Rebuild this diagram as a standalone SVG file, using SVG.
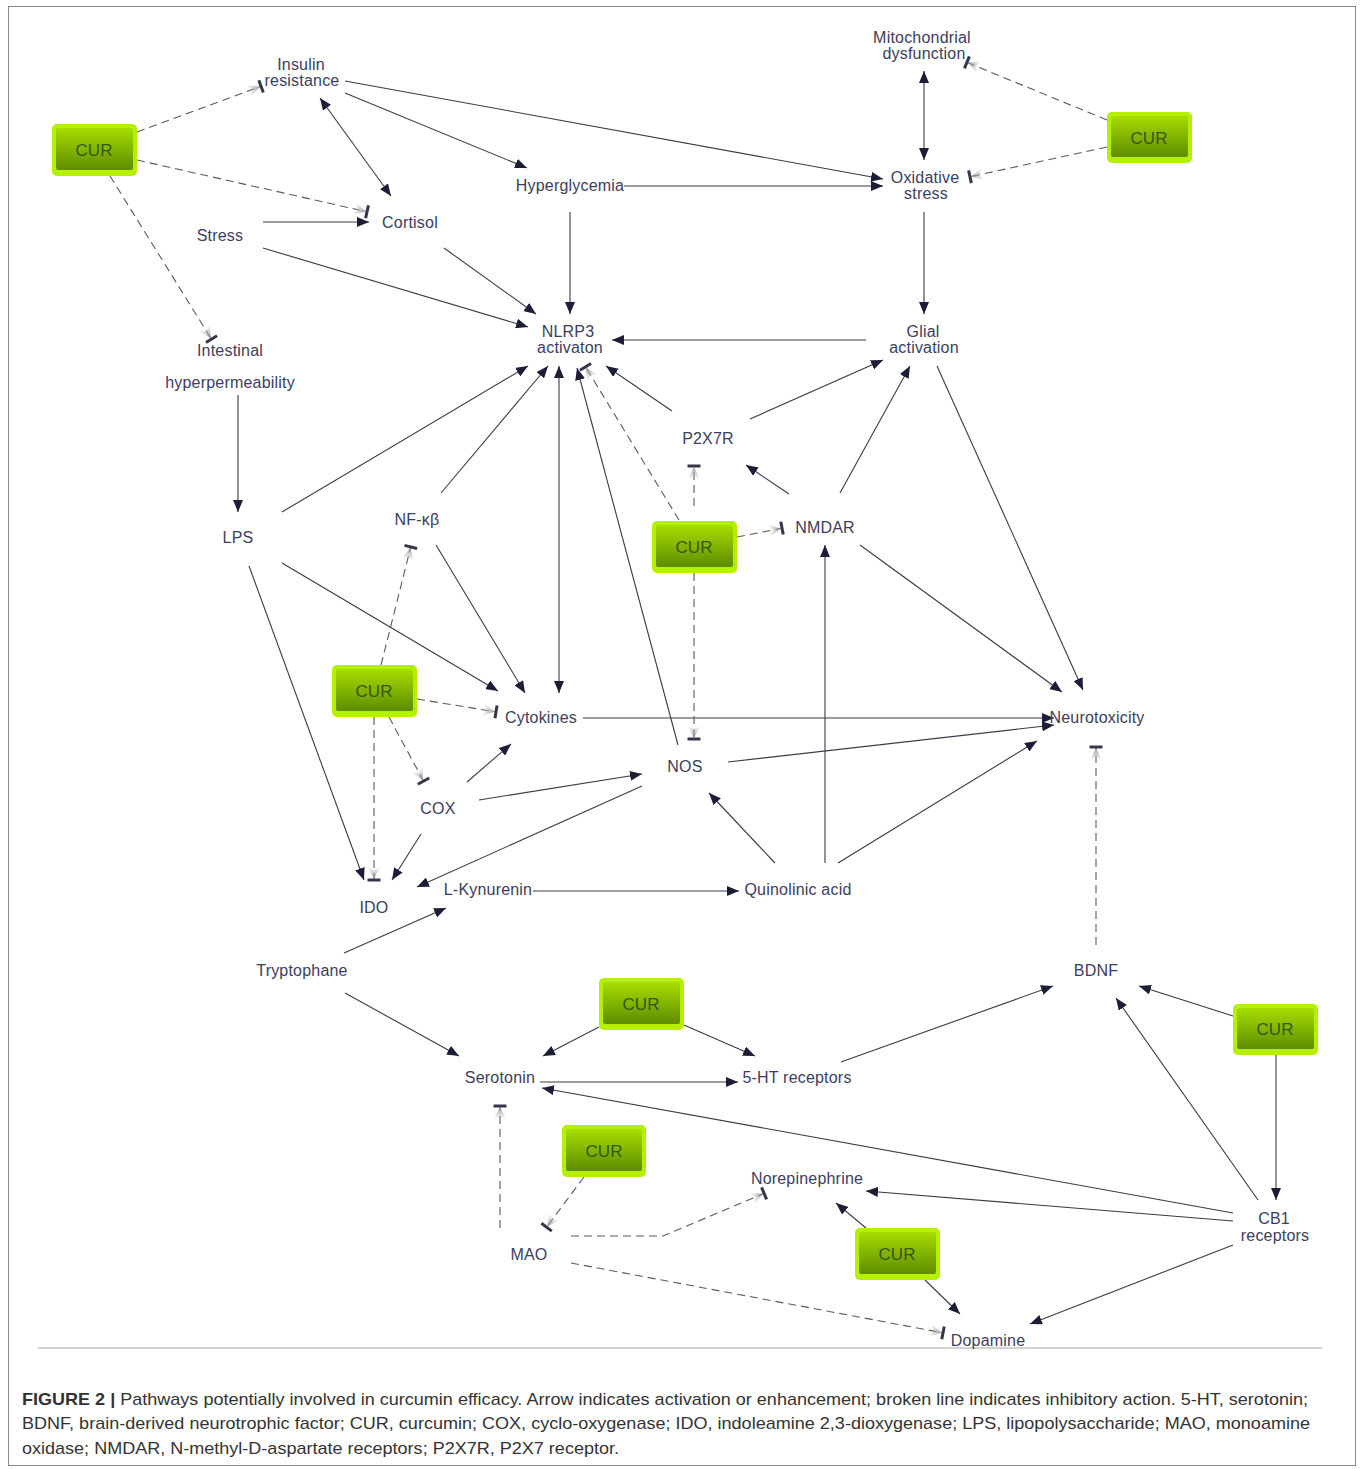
<svg xmlns="http://www.w3.org/2000/svg" width="1360" height="1469" viewBox="0 0 1360 1469">
<defs>
<linearGradient id="curg" x1="0" y1="0" x2="0" y2="1">
<stop offset="0" stop-color="#a6de00"/>
<stop offset="1" stop-color="#5e8c00"/>
</linearGradient>
<linearGradient id="fade" x1="0" y1="0" x2="1" y2="0">
<stop offset="0" stop-color="#c8c8c8" stop-opacity="0.2"/>
<stop offset="1" stop-color="#8a8a8a" stop-opacity="0.9"/>
</linearGradient>
<marker id="arr" viewBox="0 0 12 10" refX="12" refY="5" markerWidth="12" markerHeight="10" markerUnits="userSpaceOnUse" orient="auto-start-reverse">
<path d="M0,0 L12,5 L0,10 z" fill="#1c1e38"/>
</marker>
<marker id="inh" viewBox="0 0 16 16" refX="14" refY="8" markerWidth="16" markerHeight="16" markerUnits="userSpaceOnUse" orient="auto">
<path d="M0,2 L12,8 L0,14 L3,8 z" fill="url(#fade)"/>
<rect x="11.5" y="1.5" width="3" height="13" fill="#34364c"/>
</marker>
</defs>
<style>
.t{font-family:"Liberation Sans",Arial,sans-serif;font-size:16px;fill:#3b3e5e;text-anchor:middle;letter-spacing:0.2px}
.s{stroke:#3a3a48;stroke-width:1.1;fill:none;marker-end:url(#arr)}
.d{stroke:#5a5a5a;stroke-width:1.1;fill:none;stroke-dasharray:8 5;marker-end:url(#inh)}
.bx{fill:#b4f000}
.bi{fill:url(#curg)}
.ct{font-family:"Liberation Sans",Arial,sans-serif;font-size:17px;fill:#3a5514;text-anchor:middle}
.cap{font-family:"Liberation Sans",Arial,sans-serif;font-size:17px;fill:#333}
</style>
<rect x="0" y="0" width="1360" height="1469" fill="#fff"/>
<rect x="8.5" y="6.5" width="1347" height="1459" fill="none" stroke="#8a8a8a" stroke-width="1"/>
<line x1="38" y1="1348" x2="1322" y2="1348" stroke="#d2d2d2" stroke-width="2"/>

<g id="connectors">
<line class="s" x1="345" y1="93" x2="527" y2="168"/>
<line class="s" x1="345" y1="81" x2="883" y2="179"/>
<line class="s" x1="320" y1="98" x2="391" y2="196" marker-start="url(#arr)"/>
<line class="s" x1="624" y1="186" x2="883" y2="186"/>
<line class="s" x1="924" y1="71" x2="924" y2="160" marker-start="url(#arr)"/>
<line class="s" x1="924" y1="212" x2="924" y2="314"/>
<line class="s" x1="263" y1="222" x2="369" y2="222"/>
<line class="s" x1="263" y1="248" x2="528" y2="327"/>
<line class="s" x1="444" y1="248" x2="536" y2="314"/>
<line class="s" x1="570" y1="212" x2="570" y2="314"/>
<line class="s" x1="866" y1="340" x2="612" y2="340"/>
<line class="s" x1="238" y1="395" x2="238" y2="512"/>
<line class="s" x1="282" y1="512" x2="528" y2="366"/>
<line class="s" x1="441" y1="493" x2="548" y2="366"/>
<line class="s" x1="559" y1="693" x2="559" y2="366" marker-start="url(#arr)"/>
<line class="s" x1="678" y1="745" x2="577" y2="368"/>
<line class="s" x1="672" y1="411" x2="606" y2="366"/>
<line class="s" x1="750" y1="419" x2="883" y2="360"/>
<line class="s" x1="789" y1="494" x2="746" y2="465"/>
<line class="s" x1="840" y1="493" x2="910" y2="366"/>
<line class="s" x1="937" y1="366" x2="1083" y2="690"/>
<line class="s" x1="860" y1="545" x2="1062" y2="692"/>
<line class="s" x1="583" y1="718" x2="1054" y2="718"/>
<line class="s" x1="728" y1="762" x2="1054" y2="725"/>
<line class="s" x1="838" y1="863" x2="1037" y2="741"/>
<line class="s" x1="775" y1="863" x2="709" y2="793"/>
<line class="s" x1="825" y1="863" x2="825" y2="545"/>
<line class="s" x1="282" y1="563" x2="498" y2="691"/>
<line class="s" x1="436" y1="545" x2="525" y2="693"/>
<line class="s" x1="467" y1="782" x2="511" y2="744"/>
<line class="s" x1="479" y1="800" x2="642" y2="774"/>
<line class="s" x1="421" y1="834" x2="392" y2="880"/>
<line class="s" x1="249" y1="566" x2="364" y2="880"/>
<line class="s" x1="642" y1="786" x2="417" y2="887"/>
<line class="s" x1="533" y1="891" x2="739" y2="891"/>
<line class="s" x1="344" y1="953" x2="446" y2="908"/>
<line class="s" x1="345" y1="993" x2="459" y2="1056"/>
<line class="s" x1="599" y1="1027" x2="543" y2="1056"/>
<line class="s" x1="684" y1="1025" x2="755" y2="1056"/>
<line class="s" x1="540" y1="1082" x2="738" y2="1082"/>
<line class="s" x1="841" y1="1062" x2="1053" y2="986"/>
<line class="s" x1="1233" y1="1016" x2="1139" y2="986"/>
<line class="s" x1="1258" y1="1200" x2="1116" y2="998"/>
<line class="s" x1="1276" y1="1055" x2="1276" y2="1200"/>
<line class="s" x1="1233" y1="1213" x2="542" y2="1088"/>
<line class="s" x1="1233" y1="1221" x2="866" y2="1191"/>
<line class="s" x1="1233" y1="1245" x2="1030" y2="1324"/>
<line class="s" x1="866" y1="1228" x2="836" y2="1203"/>
<line class="s" x1="925" y1="1280" x2="960" y2="1314"/>

<line class="d" x1="137" y1="132" x2="262" y2="86"/>
<line class="d" x1="137" y1="160" x2="368" y2="212"/>
<line class="d" x1="110" y1="176" x2="212" y2="340"/>
<line class="d" x1="1107" y1="120" x2="966" y2="62"/>
<line class="d" x1="1107" y1="147" x2="969" y2="177"/>
<line class="d" x1="679" y1="520" x2="585" y2="366"/>
<line class="d" x1="694" y1="506" x2="694" y2="465"/>
<line class="d" x1="737" y1="537" x2="783" y2="528"/>
<line class="d" x1="694" y1="573" x2="694" y2="740"/>
<line class="d" x1="381" y1="665" x2="411" y2="546"/>
<line class="d" x1="417" y1="699" x2="497" y2="712"/>
<line class="d" x1="389" y1="717" x2="424" y2="782"/>
<line class="d" x1="374" y1="717" x2="374" y2="881"/>
<line class="d" x1="1096" y1="945" x2="1096" y2="746"/>
<line class="d" x1="500" y1="1228" x2="500" y2="1105"/>
<line class="d" x1="584" y1="1177" x2="546" y2="1228"/>
<path class="d" d="M571,1236 L663,1236 L765,1193"/>
<line class="d" x1="571" y1="1263" x2="944" y2="1333"/>
</g>

<g id="n-insulin"><text class="t" x="301" y="70">Insulin</text><text class="t" x="302" y="86">resistance</text></g>
<g id="n-cortisol"><text class="t" x="410" y="228">Cortisol</text></g>
<g id="n-stress"><text class="t" x="220" y="241">Stress</text></g>
<g id="n-hyperglycemia"><text class="t" x="570" y="191">Hyperglycemia</text></g>
<g id="n-intestinal"><text class="t" x="230" y="356">Intestinal</text><text class="t" x="230" y="388">hyperpermeability</text></g>
<g id="n-nlrp3"><text class="t" x="568" y="337">NLRP3</text><text class="t" x="570" y="353">activaton</text></g>
<g id="n-mito"><text class="t" x="922" y="43">Mitochondrial</text><text class="t" x="924" y="59">dysfunction</text></g>
<g id="n-oxidative"><text class="t" x="925" y="183">Oxidative</text><text class="t" x="926" y="199">stress</text></g>
<g id="n-glial"><text class="t" x="923" y="337">Glial</text><text class="t" x="924" y="353">activation</text></g>
<g id="n-p2x7r"><text class="t" x="708" y="444">P2X7R</text></g>
<g id="n-nmdar"><text class="t" x="825" y="533">NMDAR</text></g>
<g id="n-nfkb"><text class="t" x="417" y="525">NF-κβ</text></g>
<g id="n-lps"><text class="t" x="238" y="543">LPS</text></g>
<g id="n-cytokines"><text class="t" x="541" y="723">Cytokines</text></g>
<g id="n-neurotoxicity"><text class="t" x="1097" y="723">Neurotoxicity</text></g>
<g id="n-nos"><text class="t" x="685" y="772">NOS</text></g>
<g id="n-cox"><text class="t" x="438" y="814">COX</text></g>
<g id="n-ido"><text class="t" x="374" y="913">IDO</text></g>
<g id="n-lkyn"><text class="t" x="488" y="895">L-Kynurenin</text></g>
<g id="n-quin"><text class="t" x="798" y="895">Quinolinic acid</text></g>
<g id="n-trp"><text class="t" x="302" y="976">Tryptophane</text></g>
<g id="n-bdnf"><text class="t" x="1096" y="976">BDNF</text></g>
<g id="n-serotonin"><text class="t" x="500" y="1083">Serotonin</text></g>
<g id="n-5ht"><text class="t" x="797" y="1083">5-HT receptors</text></g>
<g id="n-norepi"><text class="t" x="807" y="1184">Norepinephrine</text></g>
<g id="n-mao"><text class="t" x="529" y="1260">MAO</text></g>
<g id="n-cb1"><text class="t" x="1274" y="1224">CB1</text><text class="t" x="1275" y="1241">receptors</text></g>
<g id="n-dopamine"><text class="t" x="988" y="1346">Dopamine</text></g>

<g id="cur1"><rect class="bx" x="52" y="124" width="85" height="52" rx="5"/><rect class="bi" x="56" y="128" width="77" height="42" rx="2"/><text class="ct" x="94" y="156">CUR</text></g>
<g id="cur2"><rect class="bx" x="1107" y="112" width="85" height="51" rx="5"/><rect class="bi" x="1111" y="116" width="77" height="41" rx="2"/><text class="ct" x="1149" y="144">CUR</text></g>
<g id="cur3"><rect class="bx" x="652" y="521" width="85" height="52" rx="5"/><rect class="bi" x="656" y="525" width="77" height="42" rx="2"/><text class="ct" x="694" y="553">CUR</text></g>
<g id="cur4"><rect class="bx" x="332" y="665" width="85" height="52" rx="5"/><rect class="bi" x="336" y="669" width="77" height="42" rx="2"/><text class="ct" x="374" y="697">CUR</text></g>
<g id="cur5"><rect class="bx" x="599" y="978" width="85" height="52" rx="5"/><rect class="bi" x="603" y="982" width="77" height="42" rx="2"/><text class="ct" x="641" y="1010">CUR</text></g>
<g id="cur6"><rect class="bx" x="1233" y="1004" width="85" height="51" rx="5"/><rect class="bi" x="1237" y="1008" width="77" height="41" rx="2"/><text class="ct" x="1275" y="1035">CUR</text></g>
<g id="cur7"><rect class="bx" x="562" y="1125" width="84" height="52" rx="5"/><rect class="bi" x="566" y="1129" width="76" height="42" rx="2"/><text class="ct" x="604" y="1157">CUR</text></g>
<g id="cur8"><rect class="bx" x="855" y="1228" width="85" height="52" rx="5"/><rect class="bi" x="859" y="1232" width="77" height="42" rx="2"/><text class="ct" x="897" y="1260">CUR</text></g>

<g id="caption">
<text class="cap" x="22" y="1405" textLength="1286" lengthAdjust="spacingAndGlyphs"><tspan font-weight="bold">FIGURE 2 |</tspan> Pathways potentially involved in curcumin efficacy. Arrow indicates activation or enhancement; broken line indicates inhibitory action. 5-HT, serotonin;</text>
<text class="cap" x="22" y="1429" textLength="1288" lengthAdjust="spacingAndGlyphs">BDNF, brain-derived neurotrophic factor; CUR, curcumin; COX, cyclo-oxygenase; IDO, indoleamine 2,3-dioxygenase; LPS, lipopolysaccharide; MAO, monoamine</text>
<text class="cap" x="22" y="1454" textLength="597" lengthAdjust="spacingAndGlyphs">oxidase; NMDAR, N-methyl-D-aspartate receptors; P2X7R, P2X7 receptor.</text>
</g>
</svg>
